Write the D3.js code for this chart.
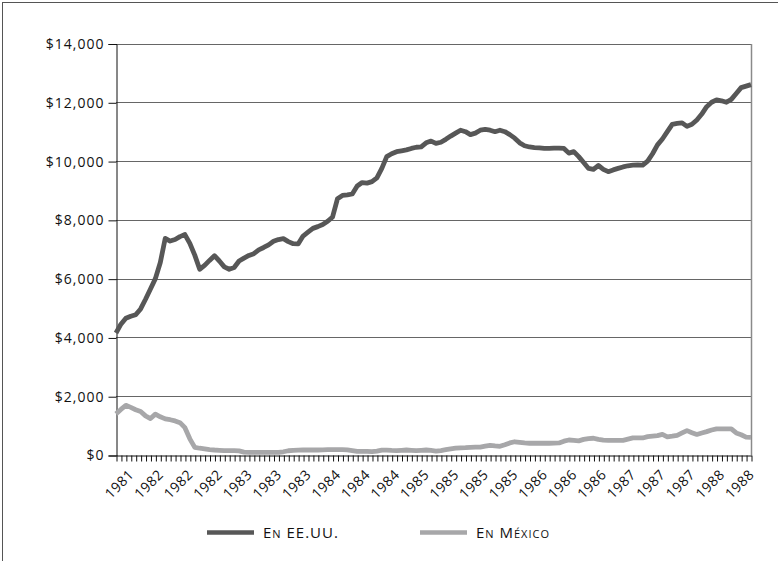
<!DOCTYPE html>
<html><head><meta charset="utf-8">
<script src="https://cdn.jsdelivr.net/npm/d3@7/dist/d3.min.js"></script>
<style>
body{margin:0;background:#fff}
svg text{font-family:"Open Sans",sans-serif;fill:#111}
</style>
</head><body>
<svg id="chart" width="778" height="561"></svg>
<script>
// ---- data ----
const tickLabels = ["1981","1982","1982","1982","1983","1983","1983","1984","1984","1984",
  "1985","1985","1985","1985","1986","1986","1986","1987","1987","1987","1988","1988"];
const seriesNames = ["En EE.UU.", "En México"];
const usValues = [4150,4450,4650,4720,4770,4970,5300,5650,6000,6550,
  7370,7280,7330,7430,7500,7200,6800,6320,6450,6620,
  6780,6600,6400,6320,6380,6600,6700,6790,6850,6980,
  7060,7150,7270,7330,7360,7260,7190,7180,7450,7580,
  7710,7770,7840,7950,8100,8720,8830,8850,8880,9150,
  9270,9250,9300,9430,9750,10150,10250,10320,10350,10380,
  10430,10470,10480,10620,10680,10600,10640,10740,10850,10950,
  11050,11000,10900,10950,11050,11080,11050,11000,11050,11000,
  10900,10780,10620,10520,10480,10460,10450,10430,10430,10440,
  10440,10430,10270,10320,10150,9950,9750,9720,9850,9720,
  9640,9700,9750,9800,9840,9860,9870,9860,10000,10250,
  10550,10750,11000,11250,11280,11300,11180,11250,11400,11600,
  11850,12000,12080,12050,12000,12100,12300,12500,12550,12600];
const mxValues = [1400,1550,1690,1620,1540,1480,1330,1240,1390,1300,
  1230,1200,1160,1100,930,550,260,230,210,185,
  170,160,150,150,150,140,100,90,90,90,
  90,90,90,90,110,145,155,165,170,170,
  170,170,175,180,180,180,180,175,150,125,
  120,120,115,130,165,165,155,150,160,170,
  160,150,160,170,155,135,150,180,210,235,
  245,250,260,265,270,300,330,310,295,350,
  410,450,430,410,400,400,400,400,400,405,
  410,470,510,495,480,530,560,570,530,505,
  500,500,500,500,540,580,580,580,625,645,
  660,700,615,640,670,750,830,760,700,750,
  795,850,890,890,890,890,750,690,610,600];
const yTicks = [0,2000,4000,6000,8000,10000,12000,14000];
const labelStep = 6, labelStart = 3;

// ---- chart ----
const svg = d3.select("#chart");
const W = 778, H = 561;
const m = {left:116, right:751, top:43.5, bottom:455};
svg.append("rect").attr("x",2.5).attr("y",2.5).attr("width",W+20).attr("height",H+20)
  .attr("fill","none").attr("stroke","#555").attr("stroke-width",1);

const idx = d3.range(usValues.length);
const x = d3.scalePoint().domain(idx).range([m.left, m.right]);
const y = d3.scaleLinear().domain([0,14000]).range([m.bottom, m.top]);

// gridlines
svg.append("g").selectAll("line").data(yTicks.filter(d=>d>0)).join("line")
  .attr("x1",m.left).attr("x2",m.right)
  .attr("y1",d=>Math.round(y(d))+0.5).attr("y2",d=>Math.round(y(d))+0.5)
  .attr("stroke","#666").attr("stroke-width",1);
// right border
svg.append("line").attr("x1",m.right+0.5).attr("x2",m.right+0.5)
  .attr("y1",Math.round(y(14000))).attr("y2",m.bottom)
  .attr("stroke","#8a8a8a").attr("stroke-width",1.5);

// y axis
const ya = svg.append("g").attr("transform",`translate(${m.left+0.5},0.5)`)
  .call(d3.axisLeft(y).tickValues(yTicks).tickSize(8).tickPadding(4)
    .tickFormat(d=>"$"+d3.format(",")(d)));
ya.select(".domain").attr("stroke","#111");
ya.selectAll(".tick line").attr("stroke","#111");
ya.selectAll("text").style("font-size","14px").style("letter-spacing","1px").attr("fill","#111");

// x axis
const xa = svg.append("g").attr("transform",`translate(0.5,${Math.round(m.bottom)+0.5})`)
  .call(d3.axisBottom(x).tickSize(6).tickSizeOuter(0)
    .tickFormat(d => ((d-labelStart)%labelStep===0 && d>=labelStart) ? tickLabels[(d-labelStart)/labelStep] : ""));
xa.select(".domain").attr("stroke","#111");
xa.selectAll(".tick line").attr("stroke","#111");
xa.selectAll("text").style("font-size","14px").style("letter-spacing","0.5px")
  .attr("text-anchor","end").attr("dy",null).attr("y",null)
  .attr("transform","translate(3,20) rotate(-45)");

// lines
const line = d3.line().x((d,i)=>x(i)).y(d=>y(d)).curve(d3.curveLinear);
svg.append("path").datum(mxValues).attr("d",line).attr("fill","none")
  .attr("stroke","#a7a7a9").attr("stroke-width",4.8).attr("stroke-linejoin","round").attr("stroke-linecap","butt");
svg.append("path").datum(usValues).attr("d",line).attr("fill","none")
  .attr("stroke","#575757").attr("stroke-width",4.8).attr("stroke-linejoin","round").attr("stroke-linecap","butt");

// legend
const leg = [{name:seriesNames[0], color:"#575757", x:207},{name:seriesNames[1], color:"#a7a7a9", x:420}];
const lg = svg.append("g").selectAll("g").data(leg).join("g")
  .attr("transform",d=>`translate(${d.x},532.5)`);
lg.append("line").attr("x1",0).attr("x2",47).attr("stroke",d=>d.color).attr("stroke-width",4.5);
lg.append("text").attr("x",56).attr("y",5).text(d=>d.name)
  .style("font-size","15px").style("font-variant","small-caps").style("letter-spacing","1px");
</script>
</body></html>
